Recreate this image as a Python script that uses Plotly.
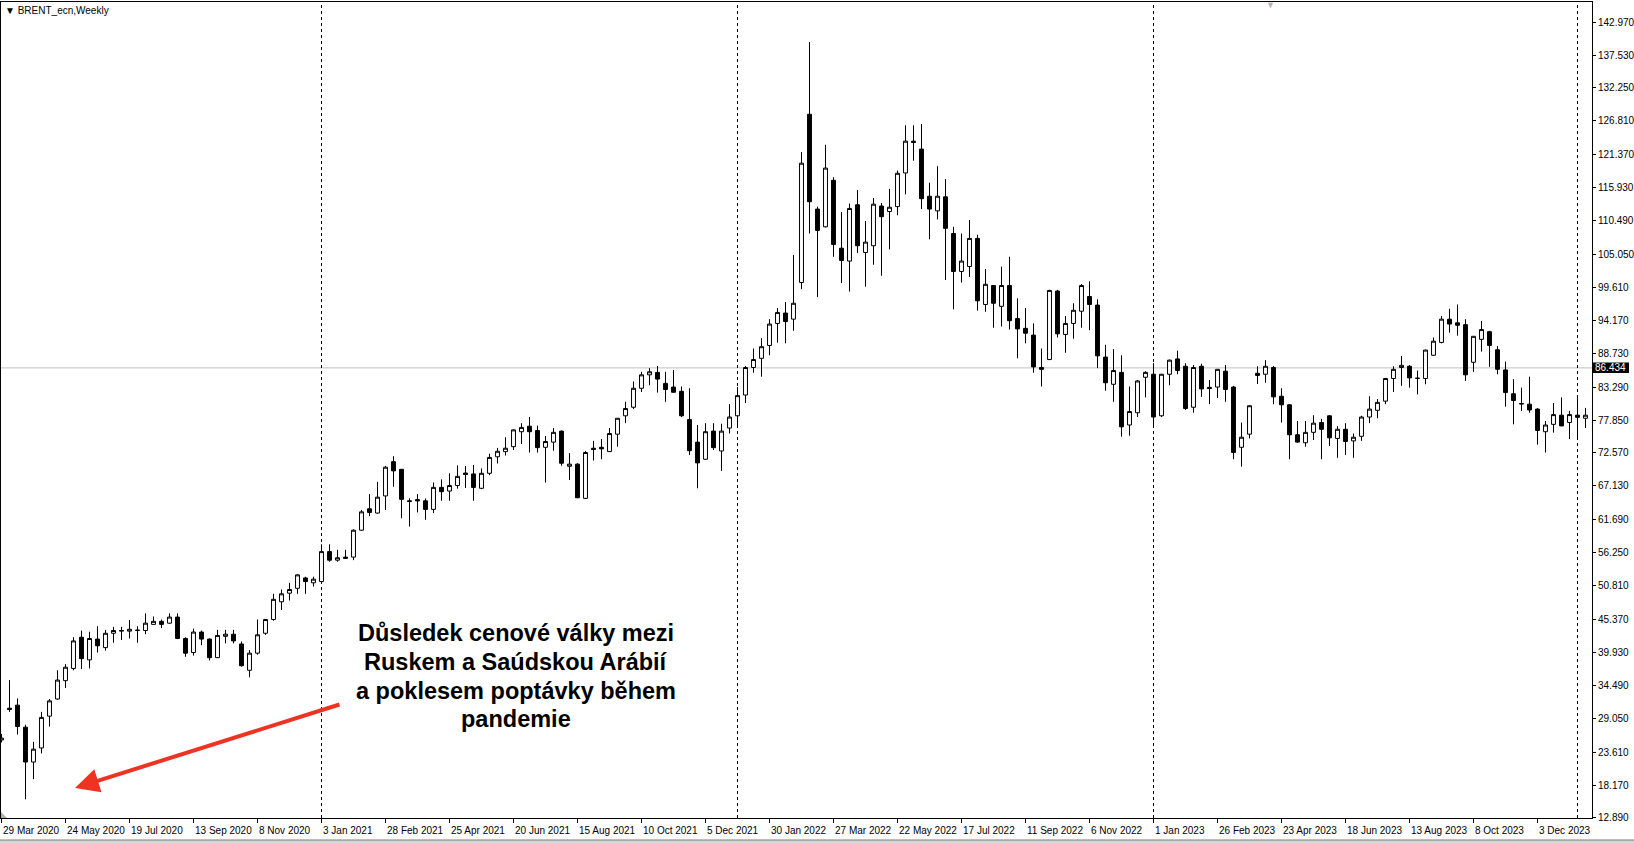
import pandas as pd
import plotly.graph_objects as go

# ---------------- data ----------------
first_week = "2020-03-29"

open_ = [25.6, 30.8, 31.3, 27.7, 22.0, 24.3, 29.5, 32.3, 35.3, 37.3,
         42.4, 38.7, 42.1, 40.7, 43.05, 43.4, 43.4, 43.5, 43.5, 44.5,
         45.0, 44.7, 45.7, 42.2, 39.9, 43.25, 42.1, 39.06, 42.55, 42.9,
         41.3, 37.0, 39.8, 43.05, 45.3, 48.2, 49.6, 50.4, 52.1, 51.3,
         51.5, 56.4, 55.0, 55.5, 55.5, 59.9, 63.4, 62.7, 65.5, 71.1,
         69.85, 64.7, 64.9, 64.7, 63.3, 66.9, 66.3, 67.2, 69.25, 69.1,
         66.75, 69.2, 71.9, 72.74, 73.55, 76.0, 76.9, 76.2, 73.45, 74.3,
         76.1, 70.35, 70.7, 65.1, 73.3, 73.45, 72.75, 75.6, 78.6, 80.0,
         83.1, 85.3, 85.7, 83.9, 83.3, 82.6, 78.0, 74.3, 71.5, 76.1,
         72.85, 76.6, 78.6, 82.0, 86.5, 88.0, 90.1, 93.7, 95.4, 94.4,
         100.4, 127.9, 112.4, 109.5, 117.1, 106.0, 103.9, 113.1, 105.3, 106.4,
         112.9, 112.0, 112.8, 118.3, 123.5, 122.2, 114.5, 112.1, 114.4, 108.4,
         102.2, 103.0, 107.6, 96.8, 99.9, 96.5, 99.9, 94.5, 92.9, 91.8,
         86.5, 87.8, 99.0, 91.9, 93.7, 95.7, 98.1, 96.7, 88.2, 83.75,
         85.7, 77.1, 79.1, 84.9, 85.4, 78.6, 85.4, 87.9, 86.7, 80.0,
         86.7, 83.25, 83.3, 85.9, 83.3, 73.45, 75.6, 85.55, 85.4, 86.5,
         81.8, 80.4, 75.5, 74.2, 75.9, 77.5, 78.6, 74.9, 76.4, 74.5,
         75.25, 78.4, 79.5, 81.0, 84.7, 86.5, 86.7, 84.7, 84.7, 88.5,
         90.6, 94.4, 93.8, 93.5, 87.35, 91.1, 92.35, 89.4, 86.1, 82.2,
         80.6, 80.5, 79.7, 76.0, 77.2, 78.7, 77.5, 78.7, 78.2]

high = [26.6, 35.4, 32.4, 28.1, 25.3, 30.2, 32.3, 37.0, 38.0, 42.4,
        43.5, 43.3, 44.2, 43.6, 44.1, 44.1, 45.2, 44.2, 46.3, 45.8,
        45.3, 46.3, 46.3, 42.4, 43.8, 43.5, 42.2, 43.6, 43.6, 43.6,
        41.7, 40.3, 45.3, 45.35, 49.5, 50.2, 51.3, 52.7, 52.3, 52.3,
        57.6, 57.6, 56.7, 56.7, 60.05, 63.2, 65.8, 67.8, 70.4, 72.0,
        69.9, 65.1, 65.8, 65.1, 67.7, 68.2, 69.2, 70.5, 70.4, 70.56,
        70.0, 72.4, 73.35, 75.1, 76.4, 77.4, 78.4, 77.0, 75.3, 76.6,
        76.2, 72.5, 70.85, 72.85, 74.5, 74.8, 76.6, 78.2, 80.9, 84.2,
        85.8, 86.4, 86.75, 85.8, 86.1, 83.4, 83.1, 77.1, 77.4, 77.4,
        77.3, 80.5, 83.3, 86.75, 89.6, 91.3, 94.4, 96.2, 97.2, 104.9,
        121.7, 139.7, 112.8, 122.9, 117.6, 111.9, 113.3, 115.5, 110.45, 114.2,
        113.4, 115.7, 118.7, 126.1, 126.1, 126.3, 116.7, 119.4, 117.3, 109.5,
        108.4, 110.6, 108.2, 102.6, 99.95, 103.0, 104.6, 97.8, 96.2, 93.7,
        89.6, 99.2, 99.2, 94.9, 97.0, 100.15, 100.6, 97.65, 90.2, 89.5,
        88.5, 83.4, 84.45, 85.9, 87.2, 85.45, 87.8, 89.25, 87.2, 86.9,
        87.1, 84.45, 86.25, 86.9, 83.5, 77.5, 80.3, 86.7, 87.7, 86.75,
        83.1, 80.5, 77.75, 77.75, 78.7, 78.1, 78.7, 76.9, 77.4, 75.7,
        78.6, 81.8, 81.35, 84.8, 86.7, 88.4, 86.9, 86.0, 89.4, 91.4,
        94.9, 96.1, 96.8, 94.4, 91.65, 94.1, 92.5, 90.0, 87.45, 84.6,
        83.2, 85.0, 79.85, 77.75, 80.7, 81.6, 79.4, 81.5, 79.9]

low = [25.2, 30.2, 26.5, 15.9, 19.2, 23.4, 27.8, 32.2, 34.1, 37.0,
       37.2, 37.3, 39.9, 40.2, 41.5, 41.95, 42.2, 41.5, 42.9, 44.5,
       43.9, 44.6, 42.1, 39.2, 39.4, 41.1, 38.6, 39.0, 41.4, 41.4,
       37.6, 35.85, 39.55, 42.8, 45.1, 46.85, 48.4, 49.5, 49.5, 50.7,
       51.5, 54.75, 54.75, 55.2, 55.0, 59.8, 62.2, 62.6, 63.2, 67.0,
       61.85, 60.5, 62.8, 61.6, 62.7, 64.7, 64.7, 66.7, 66.8, 64.7,
       66.6, 68.9, 70.8, 72.1, 73.0, 74.0, 72.6, 72.6, 67.7, 72.9,
       70.45, 68.1, 65.15, 65.0, 71.3, 71.5, 72.7, 73.55, 77.4, 79.7,
       82.5, 83.6, 82.4, 80.9, 82.4, 78.4, 72.2, 66.75, 71.4, 73.0,
       69.6, 75.7, 77.1, 80.7, 85.65, 85.0, 88.5, 90.55, 90.45, 92.5,
       99.3, 108.4, 98.0, 109.4, 104.6, 100.3, 98.9, 105.2, 99.7, 103.3,
       101.5, 105.8, 111.4, 114.8, 120.3, 112.4, 107.45, 110.7, 100.8, 96.0,
       100.4, 101.3, 95.8, 95.6, 93.0, 93.2, 92.7, 88.0, 90.45, 85.65,
       83.4, 87.7, 91.4, 88.9, 91.2, 93.0, 92.6, 86.4, 82.7, 80.9,
       75.2, 75.35, 78.4, 81.6, 77.1, 78.4, 83.6, 85.4, 79.55, 79.1,
       81.7, 80.5, 81.5, 80.9, 71.5, 70.3, 74.9, 83.8, 84.0, 80.5,
       77.5, 71.5, 74.2, 73.55, 74.65, 71.5, 73.65, 71.75, 72.2, 71.75,
       74.5, 77.4, 78.2, 80.5, 82.5, 83.5, 83.2, 82.1, 83.75, 88.4,
       90.45, 92.2, 91.7, 84.3, 85.8, 89.1, 86.6, 85.4, 80.1, 77.2,
       79.4, 79.1, 73.9, 72.6, 75.85, 76.9, 74.8, 75.1, 76.6]

close = [25.9, 30.6, 27.8, 22.0, 24.1, 29.3, 32.0, 35.4, 37.5, 41.8,
         38.9, 42.2, 41.0, 43.05, 43.5, 43.5, 43.7, 43.55, 44.7, 45.0,
         44.5, 45.7, 42.2, 39.8, 43.25, 42.1, 39.06, 42.7, 42.9, 41.8,
         37.75, 39.8, 42.8, 45.3, 48.6, 49.5, 50.2, 52.6, 51.5, 51.9,
         56.4, 55.0, 55.4, 55.3, 59.9, 62.9, 62.8, 65.3, 70.2, 69.6,
         64.95, 64.6, 64.7, 63.3, 66.9, 66.2, 67.2, 68.7, 69.0, 66.9,
         69.2, 71.8, 72.8, 73.3, 76.3, 76.7, 76.0, 73.4, 74.4, 75.9,
         70.85, 70.7, 65.2, 72.6, 73.1, 73.2, 75.7, 78.2, 79.8, 83.1,
         85.3, 85.8, 84.6, 82.9, 82.45, 78.6, 72.9, 70.9, 76.0, 73.4,
         76.1, 78.4, 81.9, 86.5, 87.8, 89.9, 93.6, 95.5, 94.0, 97.0,
         119.9, 113.6, 108.9, 119.1, 106.6, 104.0, 112.5, 106.4, 107.0, 113.2,
         111.15, 112.7, 118.25, 123.5, 123.3, 114.1, 112.4, 114.5, 109.25, 102.2,
         103.9, 107.6, 97.4, 100.1, 97.0, 99.9, 94.15, 92.8, 92.1, 86.6,
         86.2, 99.1, 92.0, 93.7, 95.85, 99.9, 96.8, 88.4, 84.0, 86.0,
         76.8, 79.3, 84.3, 85.7, 78.4, 85.4, 87.7, 86.0, 79.8, 86.5,
         83.0, 83.05, 86.2, 82.9, 72.6, 75.1, 80.25, 85.2, 86.7, 81.7,
         80.4, 75.5, 74.3, 75.9, 77.4, 76.4, 75.0, 76.4, 74.4, 75.1,
         78.4, 79.7, 80.8, 84.7, 86.2, 86.85, 84.8, 84.75, 89.35, 90.8,
         94.4, 93.6, 93.4, 85.3, 91.6, 92.7, 90.1, 86.2, 82.4, 81.1,
         80.55, 79.55, 76.2, 77.1, 78.8, 76.95, 78.8, 78.35, 78.7]

date_labels = ["29 Mar 2020", "24 May 2020", "19 Jul 2020", "13 Sep 2020", "8 Nov 2020",
               "3 Jan 2021", "28 Feb 2021", "25 Apr 2021", "20 Jun 2021", "15 Aug 2021",
               "10 Oct 2021", "5 Dec 2021", "30 Jan 2022", "27 Mar 2022", "22 May 2022",
               "17 Jul 2022", "11 Sep 2022", "6 Nov 2022", "1 Jan 2023", "26 Feb 2023",
               "23 Apr 2023", "18 Jun 2023", "13 Aug 2023", "8 Oct 2023", "3 Dec 2023"]

price_ticks = [142.970, 137.530, 132.250, 126.810, 121.370, 115.930, 110.490, 105.050,
               99.610, 94.170, 88.730, 83.290, 77.850, 72.570, 67.130, 61.690, 56.250,
               50.810, 45.370, 39.930, 34.490, 29.050, 23.610, 18.170, 12.890]

year_separators = ["2021-01-03", "2022-01-02", "2023-01-01", "2024-01-07"]
marked_price = 86.434
symbol_label = "BRENT_ecn,Weekly"
note_lines = ["Důsledek cenové války mezi", "Ruskem a Saúdskou Arábií",
              "a poklesem poptávky během", "pandemie"]

# ---------------- layout geometry ----------------
W, H = 1634, 843
ML, MR, MT, MB = 1, 42, 2, 25
PW, PH = W - ML - MR, H - MT - MB
PX_PER_WEEK = 8.0
y_range = [12.85, 146.25]

dates = pd.date_range(first_week, periods=len(close), freq="7D")
t0 = pd.Timestamp(first_week)
x_start = t0 - pd.Timedelta(days=7 * 0.0625)
x_end = x_start + pd.Timedelta(days=7 * PW / PX_PER_WEEK)

FONT = "Liberation Sans, Arial, sans-serif"


def px_x(px):
    return (px - ML) / PW


def px_y(py):
    return (H - MB - py) / PH


fig = go.Figure()
fig.add_trace(go.Candlestick(
    x=dates, open=open_, high=high, low=low, close=close,
    increasing=dict(line=dict(color="black", width=1), fillcolor="white"),
    decreasing=dict(line=dict(color="black", width=1), fillcolor="black"),
    whiskerwidth=0, hoverinfo="skip", showlegend=False,
))

shapes = []
# marked price line
shapes.append(dict(type="line", xref="paper", x0=0, x1=1, yref="y",
                   y0=marked_price, y1=marked_price,
                   line=dict(color="#c0c0c0", width=1), layer="below"))
# year separators
for d in year_separators:
    shapes.append(dict(type="line", xref="x", x0=d, x1=d, yref="paper", y0=0, y1=1,
                       line=dict(color="black", width=1, dash="3px,3px"), layer="below"))
# price tag box
shapes.append(dict(type="rect", xref="paper", yref="paper",
                   x0=px_x(1593), x1=px_x(1629),
                   y0=px_y(373), y1=px_y(362.5),
                   fillcolor="black", line=dict(width=0)))
# window bottom strip
shapes.append(dict(type="rect", xref="paper", yref="paper",
                   x0=px_x(0), x1=px_x(W), y0=px_y(H), y1=px_y(840),
                   fillcolor="#d6d6d6", line=dict(width=0)))
shapes.append(dict(type="line", xref="paper", yref="paper",
                   x0=px_x(0), x1=px_x(W), y0=px_y(840), y1=px_y(840),
                   line=dict(color="#7a7a7a", width=1)))
# small grey corner marker (bottom-left)
shapes.append(dict(type="path", xref="paper", yref="paper",
                   path=f"M {px_x(1)},{px_y(812)} L {px_x(1)},{px_y(818)} L {px_x(7)},{px_y(818)} Z",
                   fillcolor="#b0b0b0", line=dict(width=0)))

annotations = []
for lab in date_labels:
    annotations.append(dict(x=pd.to_datetime(lab, format="%d %b %Y"), xref="x",
                            y=px_y(830), yref="paper", text=lab, showarrow=False,
                            xanchor="left", yanchor="middle", borderpad=0,
                            font=dict(family=FONT, size=10, color="black")))
for v in price_ticks:
    if abs(v - marked_price) < 1.5:
        continue
    annotations.append(dict(x=px_x(1597), xref="paper", y=v, yref="y",
                            text=f"{v:.3f}", showarrow=False, xanchor="left",
                            yanchor="middle", borderpad=0,
                            font=dict(family=FONT, size=10, color="black")))
annotations.append(dict(x=px_x(1594), xref="paper", y=marked_price, yref="y",
                        text=f"{marked_price:.3f}", showarrow=False, xanchor="left",
                        yanchor="middle", borderpad=0,
                        font=dict(family=FONT, size=10, color="white")))
annotations.append(dict(x=px_x(3), xref="paper", y=px_y(11), yref="paper",
                        text="▼ " + symbol_label, showarrow=False, xanchor="left",
                        yanchor="middle", font=dict(family=FONT, size=10, color="black")))
# grey shift marker at the top
annotations.append(dict(x=px_x(1270), xref="paper", y=px_y(5), yref="paper",
                        text="▼", showarrow=False, xanchor="center", yanchor="middle",
                        font=dict(family=FONT, size=9, color="#b4b4b4")))
# note text, one line at a time
note_y = [632.5, 661.5, 690.5, 719.0]
for line, yy in zip(note_lines, note_y):
    annotations.append(dict(x=px_x(516), xref="paper", y=px_y(yy), yref="paper",
                            text="<b>" + line + "</b>", showarrow=False,
                            xanchor="center", yanchor="middle", align="center",
                            font=dict(family=FONT, size=23.5, color="black")))
# red arrow
annotations.append(dict(x=px_x(75), xref="paper", y=px_y(788), yref="paper",
                        ax=266, ay=-84, axref="pixel", ayref="pixel", text="",
                        showarrow=True, arrowhead=2, arrowsize=1.2, arrowwidth=4,
                        arrowcolor="#ee3322", standoff=0))

fig.update_layout(
    width=W, height=H,
    margin=dict(l=ML, r=MR, t=MT, b=MB, pad=0, autoexpand=False),
    paper_bgcolor="white", plot_bgcolor="white",
    shapes=shapes, annotations=annotations,
    showlegend=False,
    xaxis=dict(type="date", range=[x_start, x_end], rangeslider=dict(visible=False),
               showgrid=False, zeroline=False, showline=True, mirror=True,
               linecolor="black", linewidth=1, automargin=False,
               tickmode="array",
               tickvals=[pd.to_datetime(l, format="%d %b %Y") for l in date_labels],
               ticks="outside", ticklen=4, tickcolor="black", showticklabels=False,
               fixedrange=True),
    yaxis=dict(range=y_range, side="right", showgrid=False, zeroline=False,
               showline=True, mirror=True, linecolor="black", linewidth=1,
               automargin=False,
               tickmode="array", tickvals=price_ticks,
               ticks="outside", ticklen=3, tickcolor="black", showticklabels=False,
               fixedrange=True),
)

fig.write_html("out.html", config={"displayModeBar": False, "staticPlot": True},
               post_script="document.body.style.margin='0';document.body.style.overflow='hidden';")
